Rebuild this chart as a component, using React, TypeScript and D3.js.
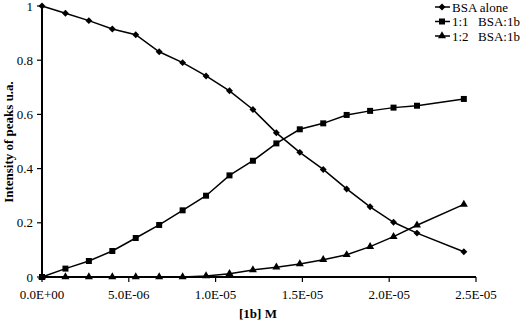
import React, { useEffect, useRef } from 'react'
import * as d3 from 'd3'

// concentration of 1b (M)
const conc = [0, 1.35e-6, 2.7e-6, 4.05e-6, 5.4e-6, 6.75e-6, 8.1e-6, 9.45e-6, 1.08e-5, 1.215e-5,
    1.35e-5, 1.485e-5, 1.62e-5, 1.755e-5, 1.89e-5, 2.025e-5, 2.16e-5, 2.43e-5]

const bsaAlone = [1.0, 0.973, 0.946, 0.915, 0.894, 0.831, 0.791, 0.742, 0.687, 0.618,
    0.532, 0.46, 0.397, 0.325, 0.259, 0.202, 0.162, 0.093]
const ratio11 = [0, 0.031, 0.059, 0.096, 0.144, 0.192, 0.246, 0.3, 0.375, 0.429,
    0.493, 0.545, 0.567, 0.598, 0.613, 0.625, 0.632, 0.657]
const ratio12 = [0, 0, 0, 0, 0, 0, 0, 0.004, 0.012, 0.026,
    0.036, 0.048, 0.064, 0.082, 0.112, 0.149, 0.191, 0.268]

const xTicks = [0, 5e-6, 1e-5, 1.5e-5, 2e-5, 2.5e-5]
const xTickLabels = ["0.0E+00", "5.0E-06", "1.0E-05", "1.5E-05", "2.0E-05", "2.5E-05"]
const yTicks = [0, 0.2, 0.4, 0.6, 0.8, 1]
const yTickLabels = ["0", "0.2", "0.4", "0.6", "0.8", "1"]

const seriesNames = ["BSA alone", "1:1", "1:2"]
const seriesSub = ["", "BSA:1b", "BSA:1b"]

export default function App() {
    const ref = useRef<HTMLDivElement>(null)

    useEffect(() => {
        var container = d3.select(ref.current)
        container.selectAll("*").remove()

        var width = 520, height = 323
        var font = "'Liberation Serif', 'Times New Roman', serif"

        var svg = container.append("svg")
            .attr("width", width)
            .attr("height", height)
            .style("position", "absolute")
            .style("left", 0)
            .style("top", 0)
            .style("background", "white")

        var x = d3.scaleLinear().domain([0, 2.5e-5]).range([42, 476])
        var y = d3.scaleLinear().domain([0, 1]).range([277, 6])

        // axes
        svg.append("line")
            .attr("x1", x(0)).attr("x2", x(2.5e-5))
            .attr("y1", y(0)).attr("y2", y(0))
            .attr("stroke", "black").attr("stroke-width", 2)
        svg.append("line")
            .attr("x1", x(0)).attr("x2", x(0))
            .attr("y1", y(0) + 1).attr("y2", y(1))
            .attr("stroke", "black").attr("stroke-width", 2)

        xTicks.forEach(function (t, i) {
            svg.append("line")
                .attr("x1", x(t)).attr("x2", x(t))
                .attr("y1", y(0)).attr("y2", y(0) + 5)
                .attr("stroke", "black").attr("stroke-width", 1.2)
            svg.append("text")
                .attr("x", x(t)).attr("y", y(0) + 22)
                .attr("text-anchor", "middle")
                .style("font", "13px " + font)
                .text(xTickLabels[i])
        })

        yTicks.forEach(function (t, i) {
            svg.append("line")
                .attr("x1", x(0) - 5).attr("x2", x(0))
                .attr("y1", y(t)).attr("y2", y(t))
                .attr("stroke", "black").attr("stroke-width", 1.2)
            svg.append("text")
                .attr("x", 33).attr("y", y(t) + 4.5)
                .attr("text-anchor", "end")
                .style("font", "13px " + font)
                .text(yTickLabels[i])
        })

        svg.append("text")
            .attr("x", 258).attr("y", 318)
            .attr("text-anchor", "middle")
            .style("font", "bold 13px " + font)
            .text("[1b] M")

        svg.append("text")
            .attr("transform", "translate(13,142) rotate(-90)")
            .attr("text-anchor", "middle")
            .style("font", "bold 13px " + font)
            .text("Intensity of peaks u.a.")

        var allSeries = [bsaAlone, ratio11, ratio12]
        var symbols = [
            d3.symbol().type(d3.symbolSquare).size(24),
            d3.symbol().type(d3.symbolSquare).size(36),
            d3.symbol().type(d3.symbolTriangle).size(28)
        ]
        var rotations = [45, 0, 0]

        var line = d3.line<number>()
            .x(function (d, i) { return x(conc[i]) })
            .y(function (d) { return y(d) })

        allSeries.forEach(function (vals, s) {
            svg.append("path")
                .attr("d", line(vals))
                .attr("fill", "none")
                .attr("stroke", "black")
                .attr("stroke-width", 1.5)
            vals.forEach(function (v, i) {
                svg.append("path")
                    .attr("d", symbols[s]())
                    .attr("transform", "translate(" + x(conc[i]) + "," + y(v) + ") rotate(" + rotations[s] + ")")
                    .attr("fill", "black")
            })
        })

        // legend
        seriesNames.forEach(function (name, s) {
            var ly = 7 + s * 14.5
            svg.append("line")
                .attr("x1", 435).attr("x2", 450)
                .attr("y1", ly).attr("y2", ly)
                .attr("stroke", "black").attr("stroke-width", 1.5)
            svg.append("path")
                .attr("d", symbols[s]())
                .attr("transform", "translate(442," + ly + ") rotate(" + rotations[s] + ")")
                .attr("fill", "black")
            svg.append("text")
                .attr("x", 452).attr("y", ly + 4.5)
                .style("font", "13px " + font)
                .text(name)
            if (seriesSub[s]) {
                svg.append("text")
                    .attr("x", 478).attr("y", ly + 4.5)
                    .style("font", "13px " + font)
                    .text(seriesSub[s])
            }
        })
    }, [])

    return (
        <div ref={ref} />
    )
}
